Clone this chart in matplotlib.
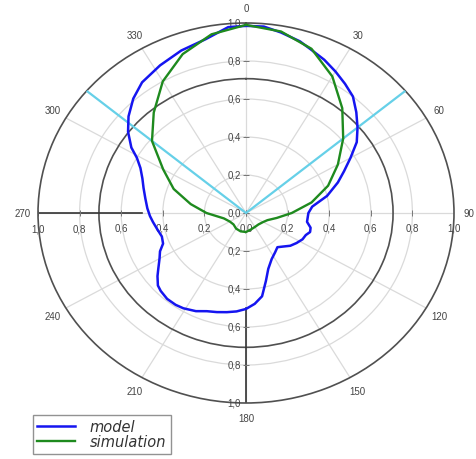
import numpy as np
import matplotlib
matplotlib.use('Agg')
import matplotlib.pyplot as plt
from matplotlib.transforms import offset_copy

# ---- data (angles in degrees, clockwise from north) ----
model_deg = [0, 5, 10, 16, 20, 25, 30, 35, 40, 45, 50, 55, 60, 65, 70, 77, 84, 90,
             99, 104, 108, 112, 117, 123, 129, 135, 140, 146, 153, 160, 165, 170, 175,
             180, 185, 190, 195, 200, 205, 211, 215, 220, 225, 228, 232, 235, 240, 244,
             248, 253, 259, 264, 268, 273, 279, 285, 290, 295, 299, 302, 307, 312, 318,
             324, 332, 340, 348, 355, 360]
model_r = [0.985, 0.985, 0.965, 0.94, 0.915, 0.89, 0.86, 0.83, 0.80, 0.75, 0.70, 0.65,
           0.58, 0.52, 0.47, 0.40, 0.32, 0.30, 0.297, 0.32, 0.324, 0.31, 0.305, 0.29,
           0.274, 0.25, 0.235, 0.25, 0.272, 0.313, 0.37, 0.445, 0.48, 0.505, 0.52, 0.53,
           0.54, 0.55, 0.57, 0.585, 0.59, 0.59, 0.58, 0.57, 0.54, 0.515, 0.48, 0.46,
           0.43, 0.423, 0.436, 0.45, 0.462, 0.475, 0.49, 0.51, 0.53, 0.56, 0.60, 0.65,
           0.71, 0.76, 0.81, 0.85, 0.88, 0.91, 0.935, 0.982, 0.985]

sim_deg = [0, 10, 20, 30, 40, 50, 60, 70, 80, 90, 100, 110, 120, 135, 150, 165, 180,
           195, 210, 225, 240, 255, 270, 280, 290, 300, 310, 320, 330, 340, 350, 360]
sim_r = [0.99, 0.97, 0.92, 0.83, 0.72, 0.61, 0.51, 0.42, 0.32, 0.22, 0.15, 0.11,
         0.095, 0.085, 0.085, 0.09, 0.10, 0.10, 0.095, 0.085, 0.09, 0.11, 0.19, 0.27,
         0.37, 0.46, 0.59, 0.69, 0.80, 0.89, 0.955, 0.99]

beam_deg = [-50, 50]
ring_3db = 0.707
angle_ticks = [0, 30, 60, 90, 120, 150, 180, 210, 240, 270, 300, 330]
radial_ticks = [0.0, 0.2, 0.4, 0.6, 0.8, 1.0]
radial_labels = ['0,0', '0,2', '0,4', '0,6', '0,8', '1,0']
series_names = ['model', 'simulation']

W, H = 477, 460
fig = plt.figure(figsize=(W / 100, H / 100), dpi=100)
ax = fig.add_axes([38 / W, (H - 404) / H, 416 / W, 380 / H], projection='polar')
ax.set_aspect('auto')
ax.set_theta_zero_location('N')
ax.set_theta_direction(-1)
ax.set_ylim(0, 1)

# grids
ax.set_rgrids([0.2, 0.4, 0.6, ring_3db, 0.8], labels=[''] * 5)
ax.set_thetagrids(angle_ticks, labels=[str(a) for a in angle_ticks],
                  fontsize=7, color='#444444', family='Liberation Sans')
ax.grid(True, color='#dadada', lw=0.9)
for gl, rv in zip(ax.yaxis.get_gridlines(), [0.2, 0.4, 0.6, ring_3db, 0.8]):
    if rv == ring_3db:
        gl.set_color('#505050')
        gl.set_linewidth(1.2)
ax.tick_params(axis='y', length=0)
ax.tick_params(axis='x', pad=0, direction='out', length=4, color='#555555', width=0.9)
ax.spines['polar'].set_color('#505050')
ax.spines['polar'].set_linewidth(1.2)

# darker axis segments
ax.plot(np.deg2rad([270, 270]), [0.5, 1.0], color='#333333', lw=1.2, zorder=2)
ax.plot(np.deg2rad([180, 180]), [0.5, 1.0], color='#333333', lw=1.2, zorder=2)

# tick marks along the four axes
for a, mk in [(0, '_'), (180, '_'), (90, '|'), (270, '|')]:
    ax.plot(np.deg2rad([a] * len(radial_ticks)), radial_ticks, ls='none', marker=mk,
            ms=4, mew=0.7, color='#777777', zorder=2)

# radial tick labels
lab_kw = dict(fontsize=7, color='#444444', family='Liberation Sans')
left_tr = offset_copy(ax.transData, fig=fig, x=-5, y=0, units='dots')
below_tr = offset_copy(ax.transData, fig=fig, x=0, y=-15, units='dots')
for r, t in zip(radial_ticks, radial_labels):
    ax.text(0, r, t, transform=left_tr, ha='right', va='center', **lab_kw)
    if r > 0:
        ax.text(np.pi, r, t, transform=left_tr, ha='right', va='center', **lab_kw)
        ax.text(np.deg2rad(270), r, t, transform=below_tr, ha='center', va='center', **lab_kw)
    ax.text(np.deg2rad(90), r, t, transform=below_tr, ha='center', va='center', **lab_kw)

# beam lines
ax.plot(np.deg2rad([beam_deg[0], beam_deg[0], beam_deg[1], beam_deg[1]]), [1, 0, 0, 1],
        color='#66d0e8', lw=1.6, zorder=3)

# series
l1, = ax.plot(np.deg2rad(model_deg), model_r, color='#1515f0', lw=1.8, zorder=4)
l2, = ax.plot(np.deg2rad(sim_deg), sim_r, color='#1e8a1e', lw=1.7, zorder=5)

for t in ax.texts:
    t.set_clip_on(False)

leg = fig.legend([l1, l2], series_names, loc='upper left',
                 bbox_to_anchor=(33 / W, 1 - 416 / H), borderaxespad=0,
                 prop={'style': 'italic', 'size': 10.5}, frameon=True, fancybox=False,
                 edgecolor='#777777', handlelength=2.6, labelspacing=0.0,
                 borderpad=0.3, handletextpad=1.0)
leg.get_frame().set_linewidth(1.0)
for txt in leg.get_texts():
    txt.set_color('#333333')

fig.savefig('out.png', dpi=100)
